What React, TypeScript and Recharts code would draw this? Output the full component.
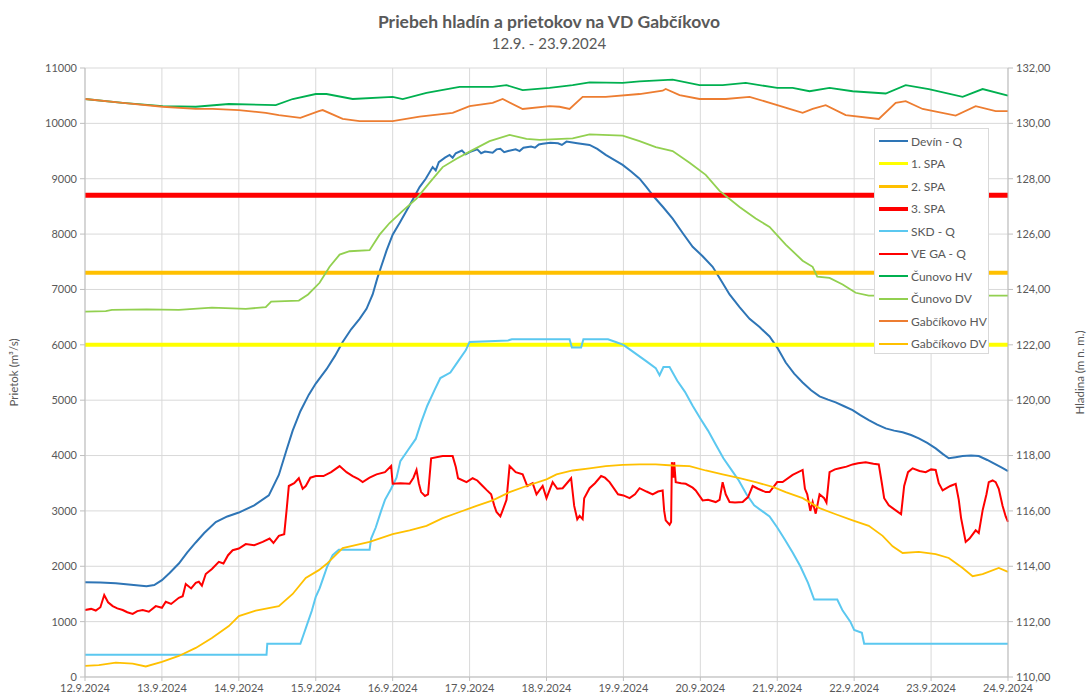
import React from 'react';
import { LineChart, Line, XAxis, YAxis, CartesianGrid, Label } from 'recharts';

const dateLabels = ['12.9.2024', '13.9.2024', '14.9.2024', '15.9.2024', '16.9.2024', '17.9.2024', '18.9.2024', '19.9.2024', '20.9.2024', '21.9.2024', '22.9.2024', '23.9.2024', '24.9.2024'];
const leftTicks = [0, 1000, 2000, 3000, 4000, 5000, 6000, 7000, 8000, 9000, 10000, 11000];
const rightTicks = [110, 112, 114, 116, 118, 120, 122, 124, 126, 128, 130, 132];
const spaLevels = [6000, 7300, 8700];

// [day offset from 12.9.2024, value]
const devinQ: [number, number][] = [
  [0, 1710], [0.2, 1705], [0.4, 1695], [0.6, 1665], [0.8, 1640], [0.9, 1660], [1.0, 1750], [1.1, 1880], [1.22, 2050], [1.33, 2250], [1.44, 2430], [1.55, 2600], [1.7, 2800], [1.85, 2900], [2.0, 2970], [2.2, 3100], [2.39, 3280], [2.52, 3650], [2.62, 4100], [2.7, 4450], [2.8, 4800], [2.91, 5100], [3.0, 5300], [3.14, 5560], [3.25, 5800], [3.35, 6050], [3.46, 6280], [3.57, 6470], [3.66, 6650], [3.74, 6910], [3.8, 7200], [3.85, 7410], [3.92, 7700], [4.0, 7990], [4.09, 8200], [4.18, 8420], [4.26, 8620], [4.35, 8850], [4.43, 9000], [4.52, 9210], [4.56, 9150], [4.6, 9300], [4.68, 9380], [4.74, 9430], [4.78, 9380], [4.82, 9460], [4.9, 9510], [4.95, 9440], [5.0, 9480], [5.1, 9530], [5.15, 9460], [5.2, 9490], [5.3, 9470], [5.35, 9530], [5.4, 9540], [5.45, 9480], [5.5, 9500], [5.6, 9530], [5.65, 9500], [5.7, 9560], [5.8, 9580], [5.85, 9560], [5.9, 9620], [5.95, 9630], [6.05, 9650], [6.15, 9640], [6.2, 9610], [6.26, 9670], [6.4, 9640], [6.56, 9610], [6.66, 9540], [6.77, 9430], [6.88, 9340], [6.99, 9250], [7.1, 9130], [7.21, 9000], [7.3, 8850], [7.4, 8670], [7.52, 8480], [7.64, 8280], [7.77, 8020], [7.9, 7770], [8.03, 7600], [8.16, 7410], [8.27, 7160], [8.38, 6910], [8.51, 6680], [8.64, 6470], [8.77, 6320], [8.9, 6150], [9.0, 5950], [9.11, 5680], [9.22, 5480], [9.33, 5320], [9.44, 5180], [9.55, 5070], [9.66, 5010], [9.76, 4960], [9.87, 4890], [9.98, 4820], [10.08, 4730], [10.19, 4640], [10.3, 4560], [10.41, 4490], [10.52, 4450], [10.63, 4420], [10.74, 4370], [10.84, 4310], [10.95, 4230], [11.06, 4130], [11.15, 4030], [11.23, 3950], [11.32, 3970], [11.41, 3990], [11.52, 4000], [11.62, 3990], [11.73, 3920], [11.84, 3840], [11.92, 3780], [12, 3720],
];

const skdQ: [number, number][] = [
  [0, 400], [2.36, 400], [2.37, 600], [2.8, 600], [2.85, 800], [2.9, 1000], [2.95, 1200], [3.0, 1450], [3.05, 1600], [3.1, 1800], [3.15, 2000], [3.22, 2200], [3.3, 2300], [3.7, 2300], [3.72, 2500], [3.78, 2700], [3.85, 3000], [3.9, 3200], [3.98, 3400], [4.05, 3600], [4.1, 3900], [4.2, 4100], [4.3, 4300], [4.37, 4600], [4.45, 4900], [4.55, 5200], [4.62, 5400], [4.75, 5500], [4.85, 5700], [4.95, 5900], [5.0, 6050], [5.5, 6080], [5.55, 6100], [6.3, 6100], [6.33, 5950], [6.45, 5950], [6.48, 6100], [6.8, 6100], [6.9, 6050], [7.0, 6000], [7.1, 5900], [7.2, 5800], [7.3, 5700], [7.42, 5580], [7.47, 5450], [7.52, 5600], [7.6, 5600], [7.7, 5350], [7.8, 5150], [7.9, 4900], [8.0, 4670], [8.1, 4450], [8.2, 4200], [8.3, 3950], [8.4, 3750], [8.5, 3550], [8.6, 3300], [8.7, 3100], [8.8, 3000], [8.9, 2900], [9.0, 2700], [9.1, 2480], [9.2, 2250], [9.3, 2000], [9.4, 1700], [9.48, 1400], [9.78, 1400], [9.85, 1200], [9.95, 1000], [10.0, 850], [10.1, 800], [10.13, 600], [12, 600],
];

const veGaQ: [number, number][] = [
  [0, 1210], [0.08, 1230], [0.14, 1200], [0.2, 1260], [0.25, 1480], [0.3, 1350], [0.36, 1280], [0.42, 1240], [0.49, 1210], [0.55, 1170], [0.62, 1140], [0.68, 1190], [0.75, 1210], [0.83, 1180], [0.92, 1280], [1.0, 1250], [1.05, 1360], [1.12, 1320], [1.22, 1430], [1.27, 1460], [1.31, 1680], [1.38, 1600], [1.44, 1700], [1.48, 1720], [1.52, 1650], [1.57, 1860], [1.65, 1950], [1.74, 2080], [1.8, 2050], [1.86, 2200], [1.92, 2290], [2.0, 2320], [2.09, 2400], [2.2, 2380], [2.31, 2440], [2.4, 2500], [2.45, 2420], [2.52, 2550], [2.59, 2580], [2.62, 3000], [2.65, 3450], [2.72, 3500], [2.78, 3590], [2.83, 3400], [2.87, 3450], [2.93, 3600], [3.0, 3630], [3.1, 3630], [3.2, 3700], [3.31, 3810], [3.4, 3700], [3.48, 3630], [3.55, 3580], [3.61, 3520], [3.7, 3600], [3.79, 3660], [3.9, 3700], [3.98, 3810], [4.0, 3490], [4.1, 3500], [4.22, 3490], [4.27, 3600], [4.31, 3740], [4.34, 3500], [4.37, 3340], [4.42, 3270], [4.46, 3300], [4.5, 3950], [4.65, 3990], [4.78, 3990], [4.82, 3800], [4.85, 3590], [4.96, 3520], [5.04, 3590], [5.1, 3550], [5.17, 3450], [5.22, 3380], [5.28, 3300], [5.32, 3100], [5.35, 2980], [5.4, 2900], [5.43, 3010], [5.48, 3200], [5.52, 3810], [5.6, 3700], [5.69, 3660], [5.75, 3450], [5.82, 3500], [5.87, 3300], [5.95, 3450], [6.0, 3230], [6.08, 3520], [6.14, 3400], [6.21, 3410], [6.32, 3590], [6.36, 3090], [6.4, 2850], [6.43, 2910], [6.47, 2850], [6.49, 3230], [6.56, 3410], [6.63, 3500], [6.71, 3630], [6.76, 3600], [6.82, 3520], [6.93, 3300], [7.0, 3280], [7.08, 3230], [7.15, 3300], [7.21, 3410], [7.3, 3350], [7.38, 3300], [7.45, 3350], [7.51, 3370], [7.53, 3000], [7.55, 2830], [7.6, 2750], [7.62, 2800], [7.63, 3880], [7.65, 3600], [7.66, 3880], [7.68, 3520], [7.75, 3500], [7.81, 3490], [7.9, 3420], [7.94, 3370], [8.03, 3190], [8.1, 3200], [8.2, 3160], [8.25, 3200], [8.29, 3520], [8.33, 3300], [8.38, 3160], [8.45, 3150], [8.55, 3160], [8.62, 3250], [8.68, 3450], [8.75, 3400], [8.85, 3340], [8.9, 3340], [9.0, 3520], [9.07, 3520], [9.2, 3650], [9.33, 3740], [9.36, 3400], [9.39, 3300], [9.43, 3000], [9.46, 3160], [9.5, 2950], [9.55, 3300], [9.61, 3230], [9.64, 3150], [9.68, 3700], [9.75, 3750], [9.81, 3770], [9.9, 3800], [9.98, 3840], [10.05, 3860], [10.15, 3880], [10.25, 3850], [10.32, 3840], [10.36, 3500], [10.39, 3230], [10.45, 3100], [10.5, 3050], [10.55, 3000], [10.61, 2940], [10.65, 3450], [10.7, 3700], [10.76, 3770], [10.85, 3720], [10.93, 3700], [11.0, 3750], [11.06, 3740], [11.1, 3500], [11.15, 3370], [11.25, 3450], [11.32, 3490], [11.36, 3200], [11.39, 2870], [11.45, 2440], [11.5, 2500], [11.58, 2650], [11.62, 2600], [11.67, 3010], [11.72, 3300], [11.75, 3520], [11.8, 3550], [11.84, 3520], [11.88, 3400], [11.93, 3090], [11.97, 2900], [12, 2800],
];

// levels in m n. m.
const cunovoHV: [number, number][] = [
  [0, 130.88], [0.49, 130.74], [1.01, 130.62], [1.44, 130.6], [1.87, 130.7], [2.48, 130.66], [2.7, 130.88], [3.0, 131.06], [3.14, 131.06], [3.48, 130.88], [4.0, 130.96], [4.13, 130.88], [4.44, 131.1], [4.87, 131.32], [5.3, 131.32], [5.48, 131.38], [5.69, 131.2], [6.04, 131.28], [6.34, 131.38], [6.56, 131.48], [6.99, 131.46], [7.21, 131.52], [7.64, 131.58], [7.99, 131.38], [8.29, 131.38], [8.59, 131.46], [9.0, 131.28], [9.2, 131.28], [9.42, 131.16], [9.68, 131.28], [9.98, 131.16], [10.41, 131.08], [10.67, 131.38], [10.97, 131.24], [11.41, 130.96], [11.67, 131.24], [12, 131.0],
];

const cunovoDV: [number, number][] = [
  [0, 123.2], [0.27, 123.22], [0.35, 123.26], [0.8, 123.28], [1.22, 123.26], [1.65, 123.34], [2.09, 123.3], [2.35, 123.36], [2.42, 123.56], [2.78, 123.6], [2.9, 123.82], [3.05, 124.24], [3.18, 124.82], [3.31, 125.26], [3.44, 125.38], [3.7, 125.42], [3.83, 125.98], [3.96, 126.4], [4.13, 126.84], [4.31, 127.28], [4.48, 127.86], [4.65, 128.42], [4.83, 128.72], [5.0, 128.98], [5.26, 129.36], [5.52, 129.58], [5.74, 129.44], [5.91, 129.4], [6.34, 129.46], [6.56, 129.6], [6.99, 129.56], [7.21, 129.36], [7.42, 129.14], [7.64, 129.0], [7.86, 128.58], [8.07, 128.14], [8.25, 127.56], [8.51, 126.98], [8.72, 126.56], [8.9, 126.26], [9.11, 125.62], [9.33, 125.04], [9.46, 124.82], [9.52, 124.46], [9.68, 124.42], [9.85, 124.18], [10.02, 123.88], [10.19, 123.78], [12, 123.78],
];

const gabcikovoHV: [number, number][] = [
  [0, 130.88], [0.49, 130.74], [1.01, 130.6], [1.44, 130.52], [1.66, 130.52], [2.0, 130.48], [2.35, 130.38], [2.52, 130.3], [2.8, 130.2], [3.04, 130.44], [3.09, 130.48], [3.35, 130.16], [3.57, 130.08], [4.0, 130.08], [4.35, 130.24], [4.78, 130.38], [5.0, 130.62], [5.3, 130.74], [5.43, 130.88], [5.69, 130.52], [6.04, 130.62], [6.17, 130.6], [6.3, 130.52], [6.47, 130.96], [6.77, 130.96], [7.21, 131.06], [7.51, 131.18], [7.55, 131.24], [7.73, 131.02], [7.99, 130.88], [8.33, 130.88], [8.64, 130.96], [9.0, 130.66], [9.16, 130.52], [9.33, 130.38], [9.46, 130.52], [9.63, 130.66], [9.89, 130.3], [10.32, 130.16], [10.54, 130.74], [10.67, 130.8], [10.89, 130.52], [11.32, 130.28], [11.58, 130.62], [11.84, 130.44], [12, 130.44],
];

const gabcikovoDV: [number, number][] = [
  [0, 110.4], [0.18, 110.43], [0.4, 110.52], [0.62, 110.48], [0.79, 110.38], [1.0, 110.55], [1.22, 110.76], [1.44, 111.05], [1.65, 111.41], [1.87, 111.84], [2.0, 112.2], [2.22, 112.4], [2.52, 112.56], [2.7, 113.0], [2.87, 113.58], [3.04, 113.86], [3.14, 114.08], [3.35, 114.66], [3.7, 114.88], [4.0, 115.16], [4.22, 115.3], [4.44, 115.46], [4.65, 115.74], [4.87, 115.96], [5.09, 116.18], [5.3, 116.38], [5.52, 116.68], [5.74, 116.9], [6.0, 117.14], [6.13, 117.32], [6.34, 117.46], [6.56, 117.54], [6.77, 117.62], [6.99, 117.66], [7.21, 117.68], [7.42, 117.68], [7.64, 117.64], [7.86, 117.62], [8.07, 117.46], [8.29, 117.32], [8.51, 117.18], [8.72, 117.04], [8.95, 116.86], [9.11, 116.68], [9.33, 116.46], [9.55, 116.1], [9.76, 115.88], [9.98, 115.66], [10.19, 115.46], [10.37, 115.1], [10.5, 114.72], [10.63, 114.48], [10.84, 114.52], [11.06, 114.44], [11.23, 114.3], [11.41, 113.94], [11.54, 113.64], [11.67, 113.72], [11.88, 113.94], [12, 113.8],
];

const toPts = (arr: [number, number][]) => arr.map(([d, v]) => ({ d, v }));
const flat = (v: number) => [{ d: 0, v }, { d: 12, v }];

type S = { name: string; data: { d: number; v: number }[]; color: string; width: number; axis: string };
const series: S[] = [
  { name: 'Devín - Q', data: toPts(devinQ), color: '#2E75B6', width: 2, axis: 'left' },
  { name: '1. SPA', data: flat(spaLevels[0]), color: '#FFFF00', width: 4, axis: 'left' },
  { name: '2. SPA', data: flat(spaLevels[1]), color: '#FFC000', width: 4, axis: 'left' },
  { name: '3. SPA', data: flat(spaLevels[2]), color: '#FF0000', width: 5, axis: 'left' },
  { name: 'SKD - Q', data: toPts(skdQ), color: '#5BC8F0', width: 2, axis: 'left' },
  { name: 'VE GA - Q', data: toPts(veGaQ), color: '#FF0000', width: 2, axis: 'left' },
  { name: 'Čunovo HV', data: toPts(cunovoHV), color: '#00B050', width: 1.8, axis: 'right' },
  { name: 'Čunovo DV', data: toPts(cunovoDV), color: '#92D050', width: 1.8, axis: 'right' },
  { name: 'Gabčíkovo HV', data: toPts(gabcikovoHV), color: '#ED7D31', width: 1.8, axis: 'right' },
  { name: 'Gabčíkovo DV', data: toPts(gabcikovoDV), color: '#FFC000', width: 1.8, axis: 'right' },
];

const FONT = "Lato, 'Open Sans', sans-serif";
const TXT = '#595959';

export default function App() {
  return (
    <div style={{ position: 'absolute', left: 0, top: 0, width: 1088, height: 697, background: '#fff', fontFamily: FONT }}>
      <div style={{ position: 'absolute', left: 0, top: 11, width: 1098, textAlign: 'center', fontSize: 17.5, fontWeight: 700, color: TXT, lineHeight: '22px' }}>
        Priebeh hladín a prietokov na VD Gabčíkovo
      </div>
      <div style={{ position: 'absolute', left: 0, top: 33, width: 1098, textAlign: 'center', fontSize: 15, color: TXT, lineHeight: '20px' }}>
        12.9. - 23.9.2024
      </div>
      <div style={{ position: 'absolute', left: 0, top: 0 }}>
        <LineChart width={1088} height={697} margin={{ top: 68, right: 0, bottom: 0, left: 0 }}>
          <CartesianGrid yAxisId="left" stroke="#D9D9D9" strokeWidth={1} />
          <XAxis
            dataKey="d"
            type="number"
            domain={[0, 12]}
            ticks={[0, 1, 2, 3, 4, 5, 6, 7, 8, 9, 10, 11, 12]}
            tickFormatter={(v: number) => dateLabels[Math.round(v)]}
            allowDuplicatedCategory={false}
            height={20}
            tickSize={4}
            tickMargin={3}
            tickLine={{ stroke: '#BFBFBF' }}
            axisLine={{ stroke: '#BFBFBF' }}
            tick={{ fontSize: 11, fill: TXT, fontFamily: FONT }}
            interval={0}
          />
          <YAxis
            yAxisId="left"
            domain={[0, 11000]}
            ticks={leftTicks}
            width={85}
            tickSize={5}
            tickMargin={3}
            tickLine={{ stroke: '#BFBFBF' }}
            axisLine={{ stroke: '#BFBFBF' }}
            tick={{ fontSize: 11, fill: TXT, fontFamily: FONT }}
            interval={0}
          >
            <Label value="Prietok  (m³/s)" angle={-90} position="insideLeft" offset={14} style={{ fontSize: 11.5, fill: TXT, fontFamily: FONT, textAnchor: 'middle' }} />
          </YAxis>
          <YAxis
            yAxisId="right"
            orientation="right"
            domain={[110, 132]}
            ticks={rightTicks}
            width={80}
            tickSize={5}
            tickMargin={3}
            tickLine={{ stroke: '#BFBFBF' }}
            axisLine={{ stroke: '#BFBFBF' }}
            tickFormatter={(v: number) => v.toFixed(2).replace('.', ',')}
            tick={{ fontSize: 11, fill: TXT, fontFamily: FONT }}
            interval={0}
          >
            <Label value="Hladina  (m n. m.)" angle={-90} position="insideRight" offset={8} style={{ fontSize: 11.5, fill: TXT, fontFamily: FONT, textAnchor: 'middle' }} />
          </YAxis>
          {series.map((s) => (
            <Line
              key={s.name}
              name={s.name}
              data={s.data}
              dataKey="v"
              yAxisId={s.axis}
              type="linear"
              stroke={s.color}
              strokeWidth={s.width}
              dot={false}
              activeDot={false}
              isAnimationActive={false}
            />
          ))}
        </LineChart>
      </div>
      <div style={{ position: 'absolute', left: 874, top: 128, width: 113, height: 224, background: '#fff', border: '1px solid #D9D9D9' }}>
        {series.map((s, i) => (
          <div key={s.name} style={{ position: 'absolute', left: 4, top: 4 + i * 22.5, height: 16, display: 'flex', alignItems: 'center' }}>
            <div style={{ width: 29, height: s.width > 3 ? (s.name === '3. SPA' ? 4 : 3) : 2, background: s.color }} />
            <span style={{ marginLeft: 3, fontSize: 12, color: TXT, whiteSpace: 'nowrap' }}>{s.name}</span>
          </div>
        ))}
      </div>
    </div>
  );
}
